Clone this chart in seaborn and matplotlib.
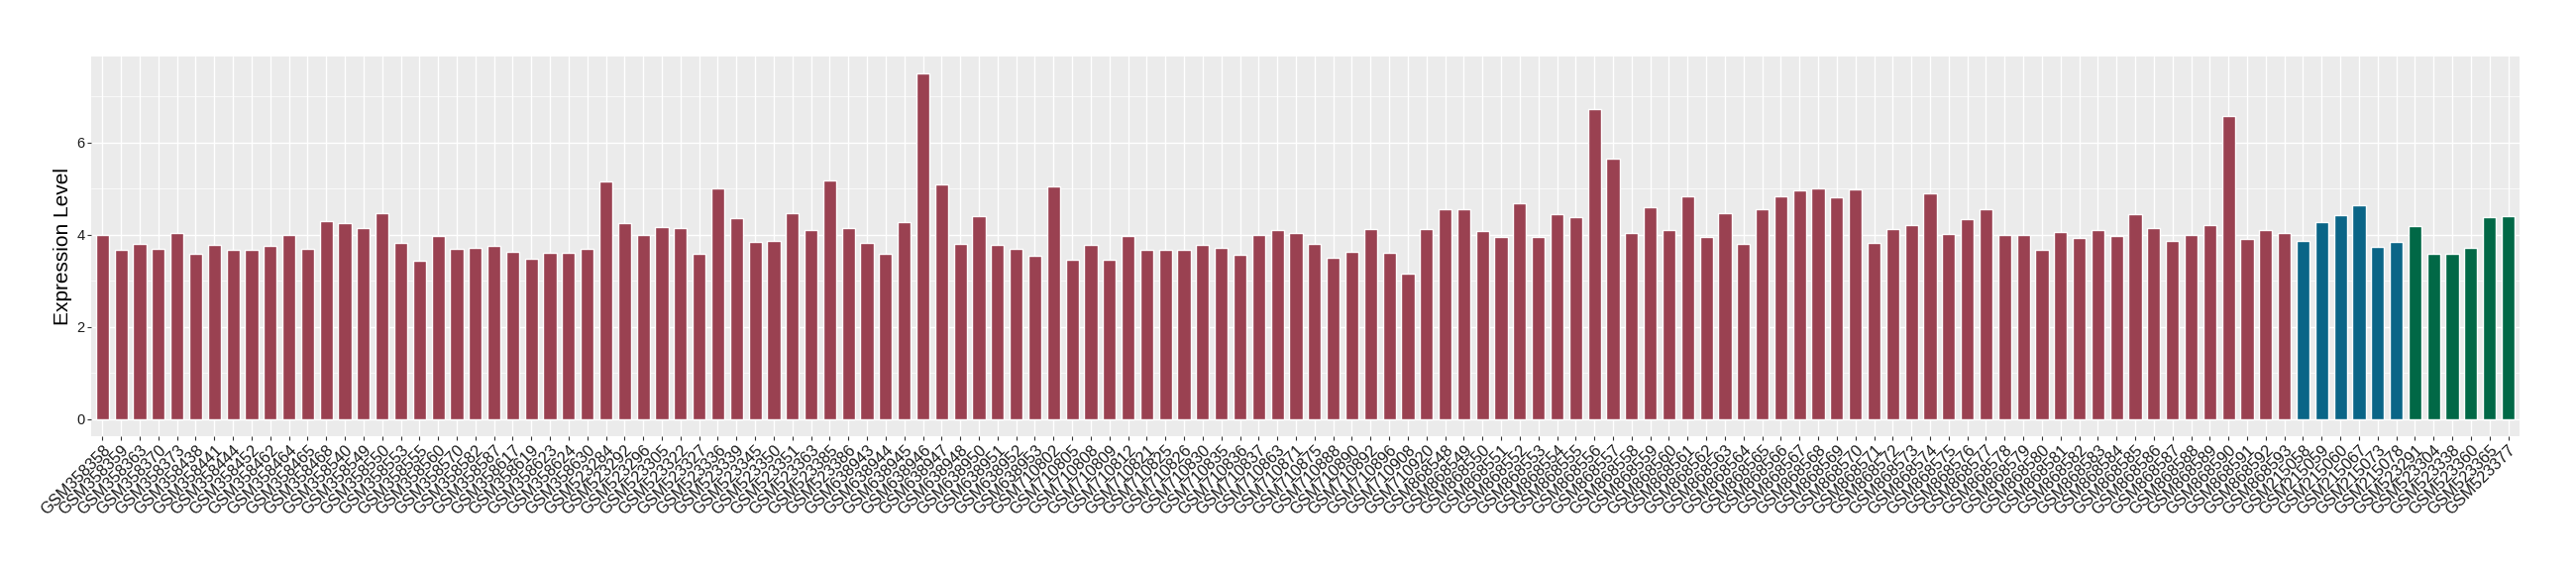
import matplotlib
matplotlib.use("Agg")
import matplotlib.pyplot as plt
import seaborn as sns
import pandas as pd
from matplotlib.ticker import MultipleLocator

# sample ids and expression values
red_samples = [
    "GSM358358", "GSM358359", "GSM358363", "GSM358370", "GSM358373", "GSM358438",
    "GSM358441", "GSM358444", "GSM358452", "GSM358462", "GSM358464", "GSM358465",
    "GSM358468", "GSM358540", "GSM358549", "GSM358550", "GSM358553", "GSM358555",
    "GSM358560", "GSM358570", "GSM358582", "GSM358587", "GSM358617", "GSM358619",
    "GSM358623", "GSM358624", "GSM358630", "GSM523284", "GSM523292", "GSM523296",
    "GSM523305", "GSM523322", "GSM523327", "GSM523336", "GSM523339", "GSM523345",
    "GSM523350", "GSM523351", "GSM523363", "GSM523385", "GSM523386", "GSM638943",
    "GSM638944", "GSM638945", "GSM638946", "GSM638947", "GSM638948", "GSM638950",
    "GSM638951", "GSM638952", "GSM638953", "GSM710802", "GSM710805", "GSM710808",
    "GSM710809", "GSM710812", "GSM710821", "GSM710825", "GSM710826", "GSM710830",
    "GSM710835", "GSM710836", "GSM710837", "GSM710863", "GSM710871", "GSM710875",
    "GSM710888", "GSM710890", "GSM710892", "GSM710896", "GSM710908", "GSM710920",
    "GSM868548", "GSM868549", "GSM868550", "GSM868551", "GSM868552", "GSM868553",
    "GSM868554", "GSM868555", "GSM868556", "GSM868557", "GSM868558", "GSM868559",
    "GSM868560", "GSM868561", "GSM868562", "GSM868563", "GSM868564", "GSM868565",
    "GSM868566", "GSM868567", "GSM868568", "GSM868569", "GSM868570", "GSM868571",
    "GSM868572", "GSM868573", "GSM868574", "GSM868575", "GSM868576", "GSM868577",
    "GSM868578", "GSM868579", "GSM868580", "GSM868581", "GSM868582", "GSM868583",
    "GSM868584", "GSM868585", "GSM868586", "GSM868587", "GSM868588", "GSM868589",
    "GSM868590", "GSM868591", "GSM868592", "GSM868593",
]
red_values = [
    3.99, 3.67, 3.80, 3.69, 4.03, 3.58, 3.78, 3.67, 3.67, 3.75,
    3.99, 3.69, 4.29, 4.25, 4.14, 4.46, 3.82, 3.43, 3.97, 3.69,
    3.71, 3.75, 3.63, 3.48, 3.60, 3.60, 3.69, 5.15, 4.25, 3.99,
    4.16, 4.14, 3.58, 5.00, 4.36, 3.84, 3.86, 4.46, 4.10, 5.17,
    4.14, 3.82, 3.58, 4.27, 7.49, 5.08, 3.80, 4.40, 3.78, 3.69,
    3.54, 5.04, 3.45, 3.78, 3.45, 3.97, 3.67, 3.67, 3.67, 3.78,
    3.71, 3.56, 3.99, 4.10, 4.03, 3.80, 3.50, 3.63, 4.12, 3.60,
    3.15, 4.12, 4.55, 4.55, 4.08, 3.95, 4.68, 3.95, 4.44, 4.38,
    6.72, 5.64, 4.03, 4.59, 4.10, 4.83, 3.95, 4.46, 3.80, 4.55,
    4.83, 4.96, 5.00, 4.81, 4.98, 3.82, 4.12, 4.21, 4.89, 4.01,
    4.33, 4.55, 3.99, 3.99, 3.67, 4.05, 3.93, 4.10, 3.97, 4.44,
    4.14, 3.86, 3.99, 4.21, 6.57, 3.90, 4.10, 4.03,
]
blue_samples = ["GSM215058", "GSM215059", "GSM215060", "GSM215067", "GSM215073", "GSM215078"]
blue_values = [3.86, 4.27, 4.42, 4.63, 3.73, 3.84]
green_samples = ["GSM523291", "GSM523304", "GSM523338", "GSM523360", "GSM523365", "GSM523377"]
green_values = [4.18, 3.58, 3.58, 3.71, 4.38, 4.40]

palette = {"A": "#9A4151", "B": "#0A6587", "C": "#016846"}

df = pd.DataFrame({
    "sample": red_samples + blue_samples + green_samples,
    "value": red_values + blue_values + green_values,
    "group": ["A"] * len(red_samples) + ["B"] * len(blue_samples) + ["C"] * len(green_samples),
})

sns.set_theme(style="darkgrid", rc={
    "axes.facecolor": "#EBEBEB",
    "grid.color": "white",
    "axes.edgecolor": "none",
})
plt.rcParams["font.family"] = ["Liberation Sans", "DejaVu Sans"]

fig, ax = plt.subplots(figsize=(26, 5.8), dpi=100)
fig.subplots_adjust(left=0.0354, right=0.978, top=0.902, bottom=0.2414)

sns.barplot(data=df, x="sample", y="value", hue="group", palette=palette,
            order=df["sample"], dodge=False, width=0.7, legend=False,
            saturation=1, ax=ax)

ax.set_xlim(-0.6, len(df) - 0.4)
ax.set_ylim(-0.375, 7.865)
ax.yaxis.set_major_locator(MultipleLocator(2))
ax.yaxis.set_minor_locator(MultipleLocator(1))
ax.grid(which="major", color="white", linewidth=1.0)
ax.grid(which="minor", axis="y", color="white", linewidth=0.5)
ax.set_axisbelow(True)
for s in ax.spines.values():
    s.set_visible(False)

ax.tick_params(axis="both", which="major", length=3, width=0.8, color="#333333",
               labelcolor="#1a1a1a", pad=1.5, bottom=True, left=True)
ax.tick_params(axis="y", which="minor", length=0)
ax.tick_params(axis="y", labelsize=10.5)
ax.tick_params(axis="x", labelsize=11.8)
plt.setp(ax.get_xticklabels(), rotation=45, ha="right", rotation_mode="anchor")

ax.set_xlabel("")
ax.set_ylabel("Expression Level", fontsize=15, color="black", labelpad=3)

fig.savefig("out.png", dpi=100)
